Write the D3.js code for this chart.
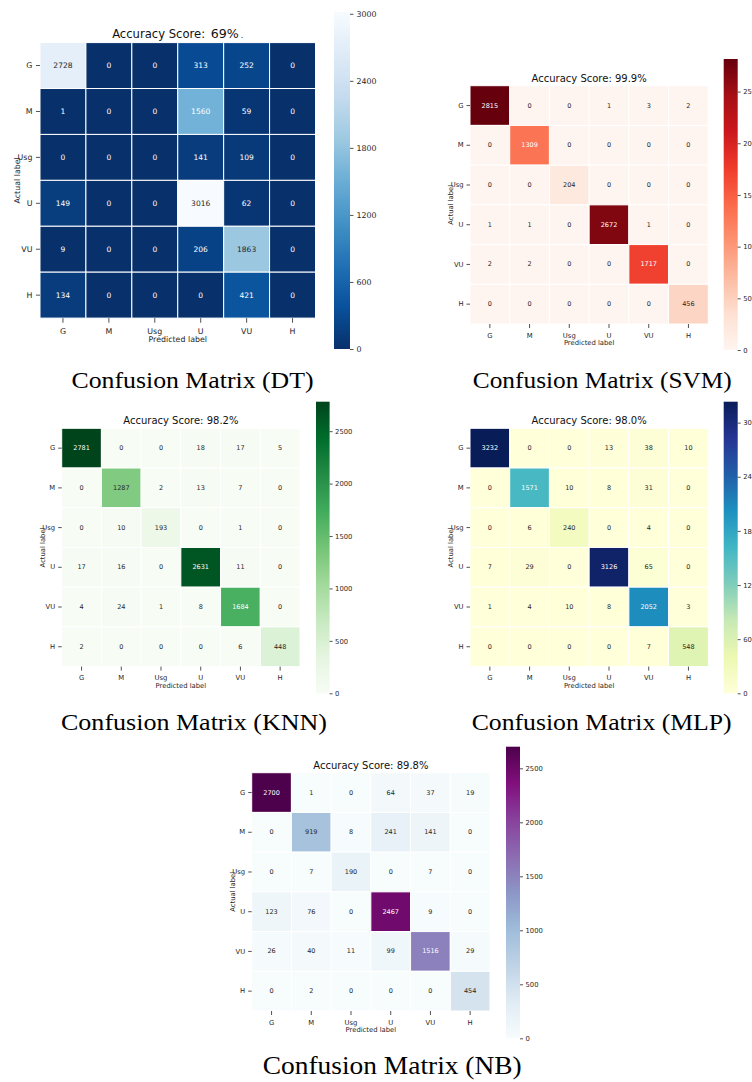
<!DOCTYPE html>
<html>
<head>
<meta charset="utf-8">
<script src="https://cdn.jsdelivr.net/npm/d3@7"></script>
<style>
  body { margin: 0; background: #fff; }
  svg { display: block; }
  text { font-family: "DejaVu Sans", sans-serif; }
</style>
</head>
<body>
<svg id="fig" width="752" height="1082"></svg>
<script>
// Class labels shared by every confusion matrix (rows = actual, columns = predicted)
const classes = ["G", "M", "Usg", "U", "VU", "H"];

const dtCounts = [
  [2728, 0, 0, 313, 252, 0],
  [1, 0, 0, 1560, 59, 0],
  [0, 0, 0, 141, 109, 0],
  [149, 0, 0, 3016, 62, 0],
  [9, 0, 0, 206, 1863, 0],
  [134, 0, 0, 0, 421, 0]
];
const svmCounts = [
  [2815, 0, 0, 1, 3, 2],
  [0, 1309, 0, 0, 0, 0],
  [0, 0, 204, 0, 0, 0],
  [1, 1, 0, 2672, 1, 0],
  [2, 2, 0, 0, 1717, 0],
  [0, 0, 0, 0, 0, 456]
];
const knnCounts = [
  [2781, 0, 0, 18, 17, 5],
  [0, 1287, 2, 13, 7, 0],
  [0, 10, 193, 0, 1, 0],
  [17, 16, 0, 2631, 11, 0],
  [4, 24, 1, 8, 1684, 0],
  [2, 0, 0, 0, 6, 448]
];
const mlpCounts = [
  [3232, 0, 0, 13, 38, 10],
  [0, 1571, 10, 8, 31, 0],
  [0, 6, 240, 0, 4, 0],
  [7, 29, 0, 3126, 65, 0],
  [1, 4, 10, 8, 2052, 3],
  [0, 0, 0, 0, 7, 548]
];
const nbCounts = [
  [2700, 1, 0, 64, 37, 19],
  [0, 919, 8, 241, 141, 0],
  [0, 7, 190, 0, 7, 0],
  [123, 76, 0, 2467, 9, 0],
  [26, 40, 11, 99, 1516, 29],
  [0, 2, 0, 0, 0, 454]
];

const accuracyScores = ["69%", "99.9%", "98.2%", "98.0%", "89.8%"];
const captions = [
  "Confusion Matrix (DT)", "Confusion Matrix (SVM)", "Confusion Matrix (KNN)",
  "Confusion Matrix (MLP)", "Confusion Matrix (NB)"
];
const colorbarTicks600 = [0, 600, 1200, 1800, 2400, 3000];
const colorbarTicks500 = [0, 500, 1000, 1500, 2000, 2500];

// Layout of each panel: heatmap square, colour bar, scale factor for text
const panels = [
  { counts: dtCounts,  scheme: d3.schemeBlues[9].slice().reverse(), ticks: colorbarTicks600,
    x: 40,    y: 42.6,  s: 275.5, cbx: 334,   cby: 12,    cbw: 16,   cbh: 337,   k: 1.16 },
  { counts: svmCounts, scheme: d3.schemeReds[9],   ticks: colorbarTicks500,
    x: 470,   y: 85.7,  s: 238.3, cbx: 723.7, cby: 59,    cbw: 14,   cbh: 291,   k: 1 },
  { counts: knnCounts, scheme: d3.schemeGreens[9], ticks: colorbarTicks500,
    x: 61.7,  y: 428.3, s: 238.3, cbx: 316,   cby: 401.7, cbw: 13.6, cbh: 291.6, k: 1 },
  { counts: mlpCounts, scheme: d3.schemeYlGnBu[9], ticks: colorbarTicks600,
    x: 470,   y: 428.3, s: 238.3, cbx: 723.7, cby: 401.7, cbw: 14,   cbh: 291.6, k: 1 },
  { counts: nbCounts,  scheme: d3.schemeBuPu[9],   ticks: colorbarTicks500,
    x: 251.7, y: 772.7, s: 238.3, cbx: 506,   cby: 746.7, cbw: 14,   cbh: 291.6, k: 1 }
];

// Caption placement (centre x, baseline y, rendered width, font size)
const captionLayout = [
  { cx: 192.5, y: 388,  w: 242, fs: 24 },
  { cx: 602.3, y: 388,  w: 259, fs: 24 },
  { cx: 194,   y: 730,  w: 266, fs: 24 },
  { cx: 601.7, y: 730,  w: 260, fs: 24 },
  { cx: 392.2, y: 1074, w: 259, fs: 25.5 }
];

const svg = d3.select("#fig");
const defs = svg.append("defs");
const inkColor = "#262626";

function luminance(c) {
  const { r, g, b } = d3.rgb(c);
  const f = v => { v /= 255; return v <= 0.03928 ? v / 12.92 : Math.pow((v + 0.055) / 1.055, 2.4); };
  return 0.2126 * f(r) + 0.7152 * f(g) + 0.0722 * f(b);
}

panels.forEach((p, idx) => {
  const k = p.k;
  const fs = 6.8 * k;
  const vmax = d3.max(p.counts.flat());
  const stops = d3.range(p.scheme.length).map(i => i / (p.scheme.length - 1));
  const t2c = d3.scaleLinear().domain(stops).range(p.scheme).interpolate(d3.interpolateRgb).clamp(true);
  const color = v => t2c(v / vmax);

  const g = svg.append("g");
  const xs = d3.scaleBand().domain(classes).range([p.x, p.x + p.s]);
  const ys = d3.scaleBand().domain(classes).range([p.y, p.y + p.s]);

  const cells = [];
  p.counts.forEach((row, r) => row.forEach((v, c) => cells.push({ r: classes[r], c: classes[c], v })));

  g.selectAll("rect.cell").data(cells).join("rect")
    .attr("class", "cell")
    .attr("x", d => xs(d.c)).attr("y", d => ys(d.r))
    .attr("width", xs.bandwidth()).attr("height", ys.bandwidth())
    .attr("fill", d => color(d.v))
    .attr("stroke", "#fff").attr("stroke-width", 1);

  g.selectAll("text.annot").data(cells).join("text")
    .attr("class", "annot")
    .attr("x", d => xs(d.c) + xs.bandwidth() / 2)
    .attr("y", d => ys(d.r) + ys.bandwidth() / 2)
    .attr("text-anchor", "middle").attr("dominant-baseline", "central")
    .attr("font-size", 6.5 * k)
    .attr("fill", d => luminance(color(d.v)) > 0.408 ? inkColor : "#fff")
    .text(d => d.v);

  // Axes
  const styleAxis = sel => {
    sel.select(".domain").remove();
    sel.selectAll(".tick line").attr("stroke", inkColor).attr("stroke-width", 0.8);
    sel.selectAll(".tick text").attr("fill", inkColor).attr("font-size", fs)
      .attr("font-family", "DejaVu Sans, sans-serif");
  };
  g.append("g").attr("transform", `translate(${p.x},0)`)
    .call(d3.axisLeft(ys).tickSize(3.5 * k).tickPadding(3 * k)).call(styleAxis);
  g.append("g").attr("transform", `translate(0,${p.y + p.s})`)
    .call(d3.axisBottom(xs).tickSize(4 * k).tickPadding(5 * k)).call(styleAxis);

  g.append("text")
    .attr("x", p.x + p.s / 2).attr("y", p.y + p.s + 21 * k)
    .attr("text-anchor", "middle").attr("font-size", fs).attr("fill", inkColor)
    .text("Predicted label");
  g.append("text")
    .attr("transform", `translate(${p.x - 19 * k},${p.y + p.s / 2}) rotate(-90)`)
    .attr("text-anchor", "middle").attr("dominant-baseline", "central")
    .attr("font-size", fs).attr("fill", inkColor)
    .text("Actual label");

  // Title
  const title = g.append("text")
    .attr("x", p.x + p.s / 2).attr("y", p.y - 4 * k)
    .attr("text-anchor", "middle").attr("font-size", 10 * k).attr("fill", "#111");
  if (idx === 0) {
    title.append("tspan").text("Accuracy Score: ");
    title.append("tspan").attr("font-size", 12.6).attr("dx", 2).text(accuracyScores[idx]);
    title.append("tspan").attr("font-size", 8).attr("dx", 2).text(".");
  } else {
    title.text("Accuracy Score: " + accuracyScores[idx]);
  }

  // Colour bar
  const gid = "cbar" + idx;
  const grad = defs.append("linearGradient").attr("id", gid)
    .attr("x1", 0).attr("y1", 1).attr("x2", 0).attr("y2", 0);
  p.scheme.forEach((c, i) => grad.append("stop").attr("offset", stops[i]).attr("stop-color", c));
  g.append("rect")
    .attr("x", p.cbx).attr("y", p.cby).attr("width", p.cbw).attr("height", p.cbh)
    .attr("fill", `url(#${gid})`);
  const cs = d3.scaleLinear().domain([0, vmax]).range([p.cby + p.cbh, p.cby]);
  g.append("g").attr("transform", `translate(${p.cbx + p.cbw},0)`)
    .call(d3.axisRight(cs).tickValues(p.ticks).tickFormat(d3.format("d")).tickSize(3 * k).tickPadding(2.5 * k))
    .call(styleAxis);
});

// Serif captions under each panel
captions.forEach((c, i) => {
  const L = captionLayout[i];
  svg.append("text")
    .attr("x", L.cx).attr("y", L.y)
    .attr("text-anchor", "middle")
    .attr("font-family", "Liberation Serif, serif")
    .style("font-family", "'Liberation Serif', serif")
    .attr("font-size", L.fs).attr("fill", "#000")
    .attr("textLength", L.w).attr("lengthAdjust", "spacingAndGlyphs")
    .text(c);
});
</script>
</body>
</html>
